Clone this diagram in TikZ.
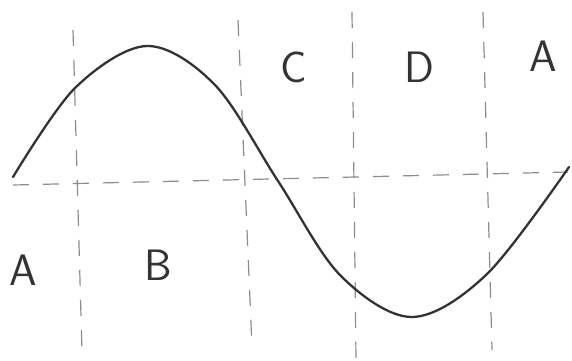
\documentclass[tikz,border=0pt]{standalone}
\usepackage{tikz}

\tikzset{
  wave/.style={line width=2.3pt, color=black!80, line cap=round},
  guide/.style={line width=1.2pt, color=black!45, dash pattern=on 16pt off 14pt},
  letter/.style={font=\sffamily\fontsize{44}{44}\selectfont, text=black!80, inner sep=0pt}
}

\begin{document}
\begin{tikzpicture}[x=1pt,y=-1pt]
            \useasboundingbox (0,0) rectangle (572,360);
            % axis and quarter lines
            \draw[guide] (13,185) -- (568,172);
            \draw[guide] (73,30) -- (82,352);
            \draw[guide] (238,20) -- (252,347);
            \draw[guide] (352,12) -- (356,358);
            \draw[guide] (483,12) -- (492,350);
            % the wave
            \draw[wave] plot[smooth, tension=0.55] coordinates {(13,177) (75,88) (147,46) (215,85) (278,181) (340,275) (412,317) (487,274) (569,167)};
            \node[letter] (lblA) at (23,270) {A};
            \node[letter] (lblB) at (158,265) {B};
            \node[letter] (lblC) at (294,67) {C};
            \node[letter] (lblD) at (419,67) {D};
            \node[letter] (lblAr) at (543,56) {A};
        \end{tikzpicture}
\end{document}
